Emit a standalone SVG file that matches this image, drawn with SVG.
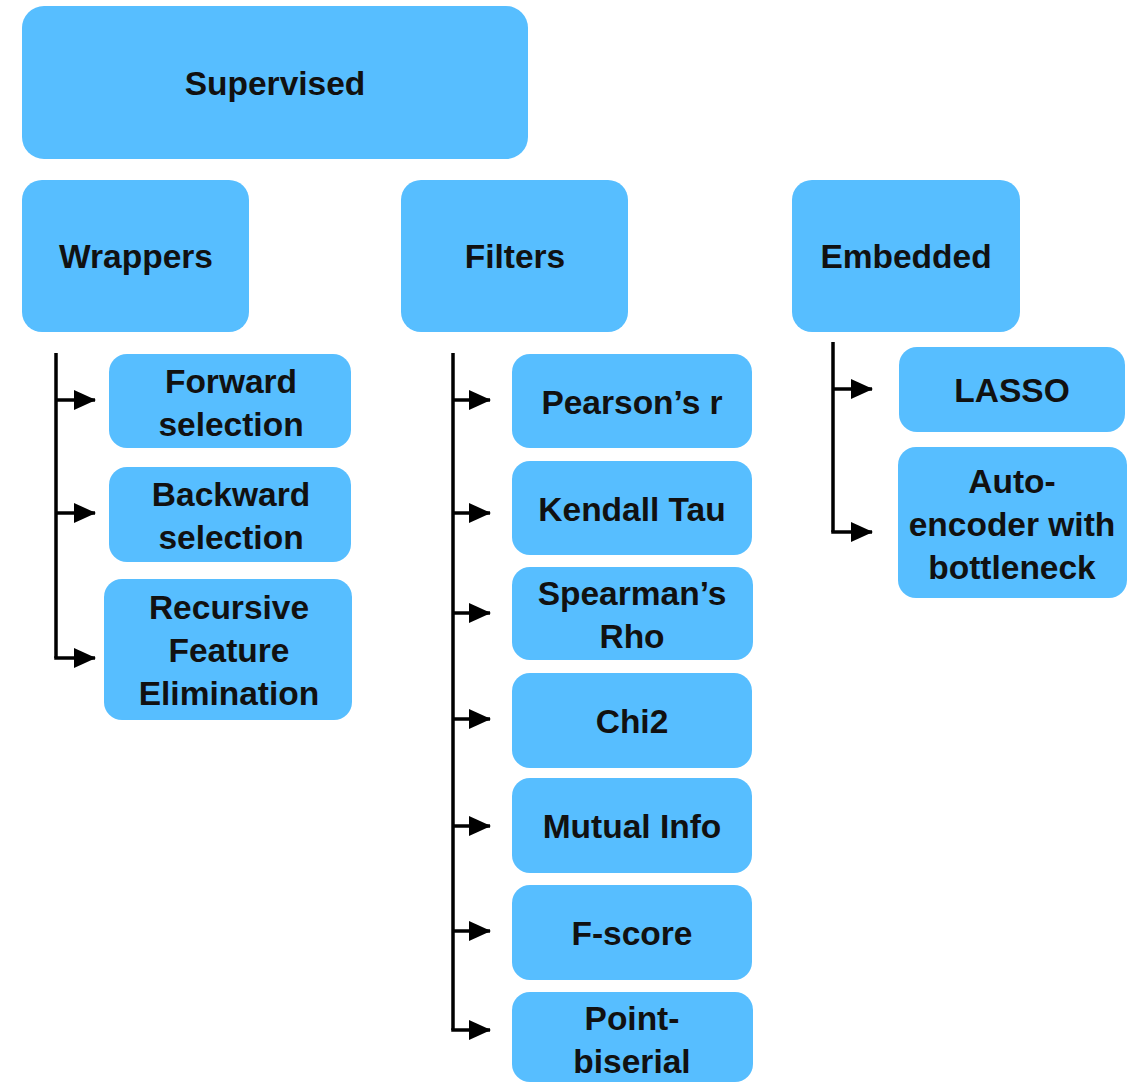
<svg xmlns="http://www.w3.org/2000/svg" width="1135" height="1084" viewBox="0 0 1135 1084">
  <defs>
    <style>
      .box { fill: #57BEFF; }
      .lbl { font-family: "Liberation Sans", Arial, Helvetica, sans-serif; font-weight: bold; font-size: 33.5px; fill: #111; text-anchor: middle; }
      .wire { fill: none; stroke: #000; stroke-width: 3.5; }
      .branch { fill: none; stroke: #000; stroke-width: 3.5; marker-end: url(#head); }
    </style>
    <marker id="head" markerUnits="userSpaceOnUse" viewBox="0 0 22 20" refX="21" refY="10" markerWidth="22" markerHeight="20" orient="auto">
      <path d="M0,0 L22,10 L0,20 z" fill="#000"/>
    </marker>
  </defs>
  <rect width="1135" height="1084" fill="#fff"/>

  <!-- connectors -->
  <g id="connectors">
    <!-- Wrappers branch -->
    <path class="wire" d="M56,353 V658"/>
    <path class="branch" d="M56,400 H95"/>
    <path class="branch" d="M56,513 H95"/>
    <path class="branch" d="M54.25,658 H95"/>
    <!-- Filters branch -->
    <path class="wire" d="M453,353 V1030"/>
    <path class="branch" d="M453,400 H490"/>
    <path class="branch" d="M453,513 H490"/>
    <path class="branch" d="M453,613 H490"/>
    <path class="branch" d="M453,719 H490"/>
    <path class="branch" d="M453,826 H490"/>
    <path class="branch" d="M453,931 H490"/>
    <path class="branch" d="M451.25,1030 H490"/>
    <!-- Embedded branch -->
    <path class="wire" d="M833,342 V532"/>
    <path class="branch" d="M833,389 H872"/>
    <path class="branch" d="M831.25,532 H872"/>
  </g>

  <!-- top level -->
  <g id="supervised">
    <rect class="box" x="22" y="6" width="506" height="153" rx="22"/>
    <text class="lbl" x="275" y="95">Supervised</text>
  </g>

  <!-- categories -->
  <g id="wrappers">
    <rect class="box" x="22" y="180" width="227" height="152" rx="20"/>
    <text class="lbl" x="136" y="268">Wrappers</text>
  </g>
  <g id="filters">
    <rect class="box" x="401" y="180" width="227" height="152" rx="20"/>
    <text class="lbl" x="515" y="268">Filters</text>
  </g>
  <g id="embedded">
    <rect class="box" x="792" y="180" width="228" height="152" rx="20"/>
    <text class="lbl" x="906" y="268">Embedded</text>
  </g>

  <!-- wrapper methods -->
  <g id="forward-selection">
    <rect class="box" x="109" y="354" width="242" height="94" rx="18"/>
    <text class="lbl" x="231" y="393">Forward</text>
    <text class="lbl" x="231" y="436">selection</text>
  </g>
  <g id="backward-selection">
    <rect class="box" x="109" y="467" width="242" height="95" rx="18"/>
    <text class="lbl" x="231" y="506">Backward</text>
    <text class="lbl" x="231" y="549">selection</text>
  </g>
  <g id="rfe">
    <rect class="box" x="104" y="579" width="248" height="141" rx="18"/>
    <text class="lbl" x="229" y="619">Recursive</text>
    <text class="lbl" x="229" y="662">Feature</text>
    <text class="lbl" x="229" y="705">Elimination</text>
  </g>

  <!-- filter methods -->
  <g id="pearson">
    <rect class="box" x="512" y="354" width="240" height="94" rx="18"/>
    <text class="lbl" x="632" y="414">Pearson’s r</text>
  </g>
  <g id="kendall">
    <rect class="box" x="512" y="461" width="240" height="94" rx="18"/>
    <text class="lbl" x="632" y="521">Kendall Tau</text>
  </g>
  <g id="spearman">
    <rect class="box" x="512" y="567" width="241" height="93" rx="18"/>
    <text class="lbl" x="632" y="605">Spearman’s</text>
    <text class="lbl" x="632" y="648">Rho</text>
  </g>
  <g id="chi2">
    <rect class="box" x="512" y="673" width="240" height="95" rx="18"/>
    <text class="lbl" x="632" y="733">Chi2</text>
  </g>
  <g id="mutual-info">
    <rect class="box" x="512" y="778" width="240" height="95" rx="18"/>
    <text class="lbl" x="632" y="838">Mutual Info</text>
  </g>
  <g id="f-score">
    <rect class="box" x="512" y="885" width="240" height="95" rx="18"/>
    <text class="lbl" x="632" y="945">F-score</text>
  </g>
  <g id="point-biserial">
    <rect class="box" x="512" y="992" width="241" height="90" rx="18"/>
    <text class="lbl" x="632" y="1030">Point-</text>
    <text class="lbl" x="632" y="1073">biserial</text>
  </g>

  <!-- embedded methods -->
  <g id="lasso">
    <rect class="box" x="899" y="347" width="226" height="85" rx="18"/>
    <text class="lbl" x="1012" y="402">LASSO</text>
  </g>
  <g id="autoencoder">
    <rect class="box" x="898" y="447" width="229" height="151" rx="18"/>
    <text class="lbl" x="1012" y="493">Auto-</text>
    <text class="lbl" x="1012" y="536">encoder with</text>
    <text class="lbl" x="1012" y="579">bottleneck</text>
  </g>
</svg>
